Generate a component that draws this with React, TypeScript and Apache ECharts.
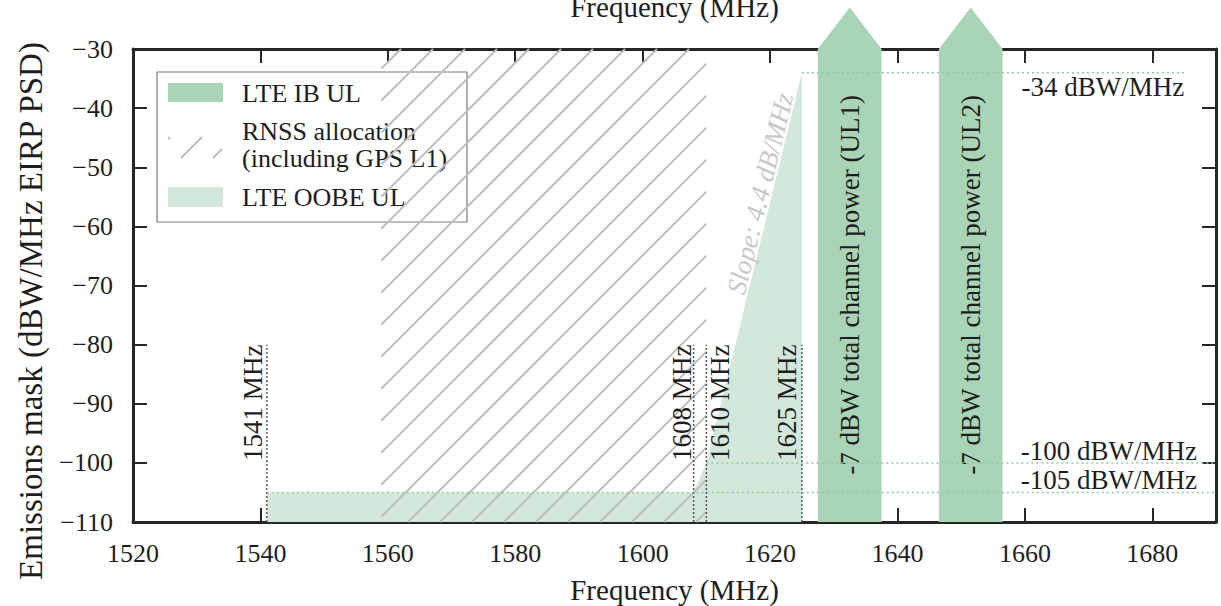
import React, { useEffect, useRef } from "react";
import * as echarts from "echarts";

// ---------- data ----------
const X_MIN = 1520;
const X_MAX = 1690;
const X_STEP = 20;
const Y_MIN = -110;
const Y_MAX = -30;
const Y_STEP = 10;

const RNSS_BAND: number[] = [1559, 1610];
const OOBE_MASK: number[][] = [
  [1541, -105],
  [1608, -105],
  [1610, -100],
  [1625, -34],
];
const IB_BANDS: number[][] = [
  [1627.5, 1637.5],
  [1646.5, 1656.5],
];
const IB_LABELS: string[] = [
  "-7 dBW total channel power (UL1)",
  "-7 dBW total channel power (UL2)",
];
const IB_ARROW_TIP = -23;
const MARKER_FREQS: number[] = [1541, 1608, 1610, 1625];
const MARKER_LABELS: string[] = ["1541 MHz", "1608 MHz", "1610 MHz", "1625 MHz"];
const MARKER_TOP = -80;
const LEVEL_VALUES: number[] = [-34, -100, -105];
const LEVEL_STARTS: number[] = [1625, 1610, 1541];
const LEVEL_ENDS: number[] = [1685, 1690, 1690];
const LEVEL_LABELS: string[] = ["-34 dBW/MHz", "-100 dBW/MHz", "-105 dBW/MHz"];
const SLOPE_LABEL = "Slope: 4.4 dB/MHz";
const LEGEND_LABELS: string[] = ["LTE IB UL", "RNSS allocation", "(including GPS L1)", "LTE OOBE UL"];
const X_NAME = "Frequency (MHz)";
const Y_NAME = "Emissions mask (dBW/MHz EIRP PSD)";

// ---------- layout / style ----------
const FONT = "Liberation Serif";
const TEXT = "#1e1e1e";
const AXIS = "#262626";
const IB_COLOR = "#a9d4b6";
const OOBE_COLOR = "#d3e8da";
const LEVEL_COLOR = "#8fca9f";
const HATCH_COLOR = "#bdbdbd";
const MARKER_SIDE: number[] = [-14, -12, 14, -15];
const LEVEL_LABEL_ANCHOR: number[] = [1685, 1687, 1687];
const LEVEL_LABEL_DY: number[] = [14, -12, -12];

function hatch(x0: number, y0: number, x1: number, y1: number, step: number, phase: number) {
  const segs: number[][] = [];
  const cMin = x0 + y0;
  const cMax = x1 + y1;
  let c = Math.ceil((cMin - phase) / step) * step + phase;
  for (; c <= cMax; c += step) {
    const xa = Math.max(x0, c - y1);
    const xb = Math.min(x1, c - y0);
    if (xb - xa > 0.5) segs.push([xa, c - xa, xb, c - xb]);
  }
  return segs;
}

const fmtMinus = (v: number) => (v < 0 ? "\u2212" + Math.abs(v) : String(v));

export default function App() {
  const ref = useRef<HTMLDivElement>(null);

  useEffect(() => {
    if (!ref.current) return;
    const chart = echarts.init(ref.current, undefined, { renderer: "svg" });

    const axisCommon = {
      type: "value",
      axisLine: { show: true, onZero: false, lineStyle: { color: AXIS, width: 3 } },
      axisTick: { show: true, inside: true, length: 14, lineStyle: { color: AXIS, width: 2 } },
      splitLine: { show: false },
    };

    const legendHatch = hatch(168, 137, 222, 158, 32, 19).map((s) => ({
      type: "line",
      shape: { x1: s[0], y1: s[1], x2: s[2], y2: s[3] },
      style: { stroke: HATCH_COLOR, lineWidth: 2 },
    }));

    const legendText = (t: string, y: number) => ({
      type: "text",
      x: 242,
      y,
      style: {
        text: t,
        fill: TEXT,
        fontFamily: FONT,
        fontSize: 26,
        align: "left",
        verticalAlign: "middle",
      },
    });

    const option: any = {
      animation: false,
      backgroundColor: "#ffffff",
      grid: { left: 133, right: 5, top: 49, bottom: 84, containLabel: false, outerBoundsMode: "none" },
      xAxis: [
        {
          ...axisCommon,
          min: X_MIN,
          max: X_MAX,
          interval: X_STEP,
          position: "bottom",
          name: X_NAME,
          nameLocation: "middle",
          nameGap: 53,
          nameTextStyle: { fontFamily: FONT, fontSize: 29, color: TEXT },
          axisLabel: {
            margin: 18,
            fontFamily: FONT,
            fontSize: 26,
            color: TEXT,
            formatter: (v: number) => (v % X_STEP === 0 ? String(v) : ""),
          },
        },
        {
          ...axisCommon,
          min: X_MIN,
          max: X_MAX,
          interval: X_STEP,
          position: "top",
          name: X_NAME,
          nameLocation: "middle",
          nameGap: 28,
          nameTextStyle: { fontFamily: FONT, fontSize: 29, color: TEXT },
          axisLabel: { show: false },
        },
      ],
      yAxis: [
        {
          ...axisCommon,
          min: Y_MIN,
          max: Y_MAX,
          interval: Y_STEP,
          position: "left",
          axisLabel: { margin: 20, fontFamily: FONT, fontSize: 26, color: TEXT, formatter: fmtMinus },
        },
        {
          ...axisCommon,
          min: Y_MIN,
          max: Y_MAX,
          interval: Y_STEP,
          position: "right",
          axisLabel: { show: false },
        },
      ],
      series: [
        {
          type: "line",
          name: "LTE OOBE UL",
          xAxisIndex: 0,
          yAxisIndex: 0,
          data: OOBE_MASK,
          symbol: "none",
          lineStyle: { width: 0, opacity: 0 },
          areaStyle: { color: OOBE_COLOR, opacity: 1, origin: "start" },
          z: 1,
          silent: true,
        },
        {
          type: "custom",
          name: "RNSS allocation",
          xAxisIndex: 0,
          yAxisIndex: 0,
          z: 2,
          silent: true,
          data: [[RNSS_BAND[0], RNSS_BAND[1]]],
          renderItem: (params: any, api: any) => {
            const p0 = api.coord([api.value(0), Y_MAX]);
            const p1 = api.coord([api.value(1), Y_MIN]);
            const segs = hatch(p0[0], p0[1], p1[0], p1[1], 32, 2);
            return {
              type: "group",
              children: segs.map((s) => ({
                type: "line",
                shape: { x1: s[0], y1: s[1], x2: s[2], y2: s[3] },
                style: { stroke: HATCH_COLOR, lineWidth: 2 },
              })),
            };
          },
        },
        {
          type: "custom",
          name: "LTE IB UL",
          xAxisIndex: 0,
          yAxisIndex: 0,
          z: 3,
          clip: false,
          silent: true,
          data: IB_BANDS,
          renderItem: (params: any, api: any) => {
            const xl = api.coord([api.value(0), Y_MIN])[0];
            const xr = api.coord([api.value(1), Y_MIN])[0];
            const yb = api.coord([X_MIN, Y_MIN])[1];
            const yt = api.coord([X_MIN, Y_MAX])[1];
            const ytip = api.coord([X_MIN, IB_ARROW_TIP])[1];
            const ylab = api.coord([X_MIN, -102])[1];
            const xc = (xl + xr) / 2;
            return {
              type: "group",
              children: [
                {
                  type: "polygon",
                  shape: { points: [[xl, yb], [xl, yt], [xc, ytip], [xr, yt], [xr, yb]] },
                  style: { fill: IB_COLOR, stroke: "none" },
                },
                {
                  type: "text",
                  x: xc,
                  y: ylab,
                  rotation: Math.PI / 2,
                  style: {
                    text: IB_LABELS[params.dataIndex],
                    fill: TEXT,
                    fontFamily: FONT,
                    fontSize: 27,
                    align: "left",
                    verticalAlign: "middle",
                  },
                },
              ],
            };
          },
        },
        {
          type: "custom",
          name: "markers",
          xAxisIndex: 0,
          yAxisIndex: 0,
          z: 4,
          silent: true,
          data: MARKER_FREQS.map((f) => [f, MARKER_TOP]),
          renderItem: (params: any, api: any) => {
            const i = params.dataIndex;
            const pb = api.coord([api.value(0), Y_MIN]);
            const pt = api.coord([api.value(0), api.value(1)]);
            return {
              type: "group",
              children: [
                {
                  type: "line",
                  shape: { x1: pb[0], y1: pb[1], x2: pt[0], y2: pt[1] },
                  style: { stroke: "#555", lineWidth: 1.5, lineDash: [2, 2] },
                },
                {
                  type: "text",
                  x: pt[0] + MARKER_SIDE[i],
                  y: pt[1],
                  rotation: Math.PI / 2,
                  style: {
                    text: MARKER_LABELS[i],
                    fill: TEXT,
                    fontFamily: FONT,
                    fontSize: 27,
                    align: "right",
                    verticalAlign: "middle",
                  },
                },
              ],
            };
          },
        },
        {
          type: "custom",
          name: "levels",
          xAxisIndex: 0,
          yAxisIndex: 0,
          z: 5,
          silent: true,
          data: LEVEL_VALUES.map((v, i) => [LEVEL_STARTS[i], LEVEL_ENDS[i], v]),
          renderItem: (params: any, api: any) => {
            const i = params.dataIndex;
            const a = api.coord([api.value(0), api.value(2)]);
            const b = api.coord([api.value(1), api.value(2)]);
            const l = api.coord([LEVEL_LABEL_ANCHOR[i], api.value(2)]);
            return {
              type: "group",
              children: [
                {
                  type: "line",
                  shape: { x1: a[0], y1: a[1], x2: b[0], y2: b[1] },
                  style: { stroke: LEVEL_COLOR, lineWidth: 1.5, lineDash: [2, 3] },
                },
                {
                  type: "text",
                  x: l[0],
                  y: l[1] + LEVEL_LABEL_DY[i],
                  style: {
                    text: LEVEL_LABELS[i],
                    fill: TEXT,
                    fontFamily: FONT,
                    fontSize: 27,
                    align: "right",
                    verticalAlign: "middle",
                  },
                },
              ],
            };
          },
        },
        {
          type: "custom",
          name: "slope",
          xAxisIndex: 0,
          yAxisIndex: 0,
          z: 4,
          silent: true,
          data: [[OOBE_MASK[2][0], OOBE_MASK[2][1], OOBE_MASK[3][0], OOBE_MASK[3][1]]],
          renderItem: (params: any, api: any) => {
            const a = api.coord([api.value(0), api.value(1)]);
            const b = api.coord([api.value(2), api.value(3)]);
            const t = 0.69;
            const px = a[0] + (b[0] - a[0]) * t;
            const py = a[1] + (b[1] - a[1]) * t;
            const ang = Math.atan2(-(b[1] - a[1]), b[0] - a[0]);
            return {
              type: "text",
              x: px - 12,
              y: py,
              rotation: ang,
              style: {
                text: SLOPE_LABEL,
                fill: "#c8c8c8",
                fontFamily: FONT,
                fontStyle: "italic",
                fontSize: 27,
                align: "center",
                verticalAlign: "middle",
              },
            };
          },
        },
      ],
      graphic: [
        {
          type: "text",
          x: 31,
          y: 311,
          rotation: Math.PI / 2,
          z: 100,
          style: {
            text: Y_NAME,
            fill: TEXT,
            fontFamily: FONT,
            fontSize: 33,
            align: "center",
            verticalAlign: "middle",
          },
        },
        {
          type: "group",
          z: 100,
          children: [
            {
              type: "rect",
              shape: { x: 157, y: 72, width: 310, height: 150 },
              style: { fill: "#ffffff", stroke: "#7a7a7a", lineWidth: 1.2 },
            },
            { type: "rect", shape: { x: 168, y: 83, width: 55, height: 19 }, style: { fill: IB_COLOR } },
            legendText(LEGEND_LABELS[0], 93),
            ...legendHatch,
            legendText(LEGEND_LABELS[1], 131),
            legendText(LEGEND_LABELS[2], 158),
            { type: "rect", shape: { x: 168, y: 187, width: 55, height: 20 }, style: { fill: OOBE_COLOR } },
            legendText(LEGEND_LABELS[3], 197),
          ],
        },
      ],
    };

    chart.setOption(option);
    return () => chart.dispose();
  }, []);

  return (
    <div
      ref={ref}
      style={{ position: "fixed", left: 0, top: 0, width: 1221, height: 606, background: "#fff" }}
    />
  );
}
